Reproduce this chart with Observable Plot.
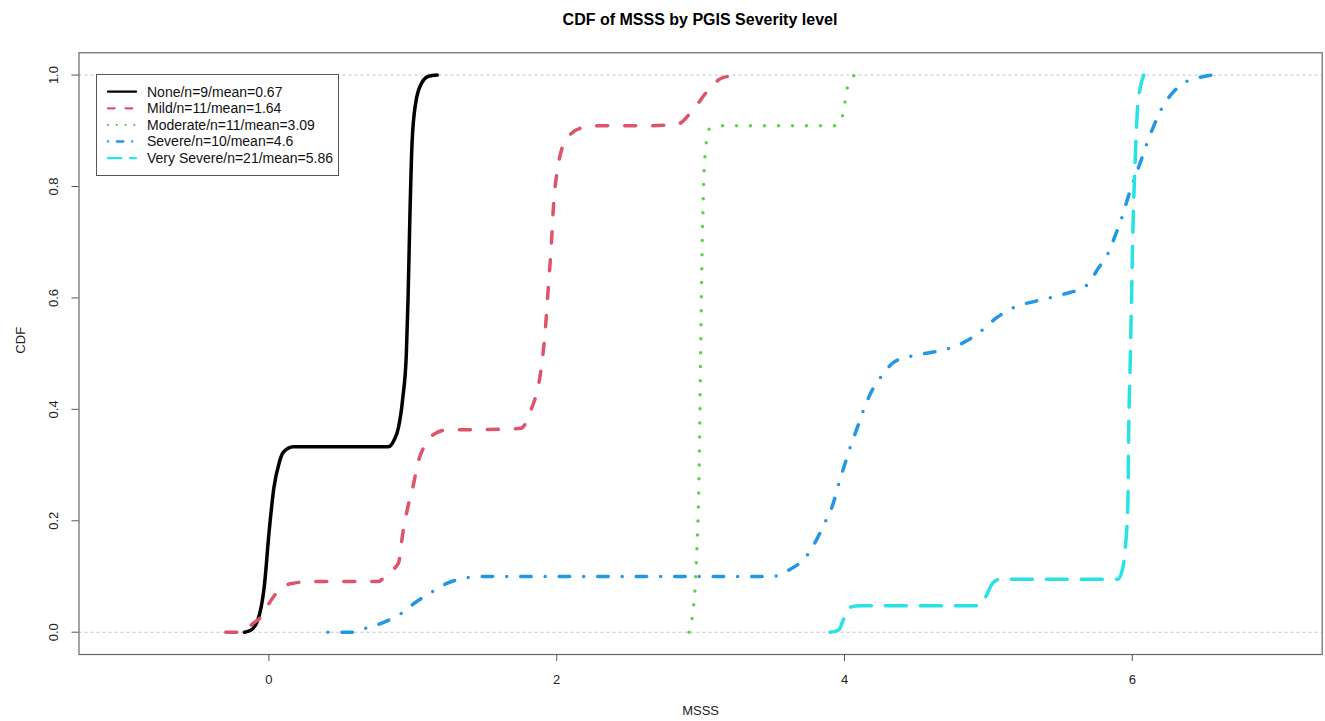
<!DOCTYPE html>
<html>
<head>
<meta charset="utf-8">
<script src="https://cdn.jsdelivr.net/npm/d3@7"></script>
<script src="https://cdn.jsdelivr.net/npm/@observablehq/plot@0.6"></script>
<style>
  html, body { margin: 0; padding: 0; background: #fff; overflow: hidden; }
  #wrap { position: relative; width: 1325px; height: 721px; overflow: hidden; font-family: "Liberation Sans", Arial, sans-serif; }
  #title { height: 36px; box-sizing: border-box; padding-left: 78px; padding-right: 3px; text-align: center;
           font-weight: bold; font-size: 16px; line-height: 39px; color: #000; }
  #chart { height: 685px; }
  #chart svg { display: block; max-width: none !important; }
  #legend { position: absolute; left: 96px; top: 74px; width: 243px; height: 102px; box-sizing: border-box;
            border: 1px solid #555; background: #fff; }
  #legend svg { display: block; }
</style>
</head>
<body>
<div id="wrap">
  <div id="title">CDF of MSSS by PGIS Severity level</div>
  <div id="chart"></div>
  <div id="legend"></div>
</div>
<script>
// ---- data ----
const seriesNames = [
  "None/n=9/mean=0.67",
  "Mild/n=11/mean=1.64",
  "Moderate/n=11/mean=3.09",
  "Severe/n=10/mean=4.6",
  "Very Severe/n=21/mean=5.86"
];
const seriesColors = ["#000000", "#DF536B", "#61D04F", "#2297E6", "#28E2E5"];

const noneX = [-0.17, -0.13, -0.08, -0.03, 0, 0.035, 0.07, 0.1, 0.17, 0.5, 0.83, 0.87, 0.9, 0.93, 0.955, 0.967, 0.98, 0.995, 1.02, 1.06, 1.11, 1.17];
const noneY = [0, 0.003, 0.02, 0.088, 0.177, 0.26, 0.303, 0.323, 0.333, 0.333, 0.333, 0.345, 0.367, 0.42, 0.5, 0.6, 0.75, 0.88, 0.95, 0.985, 0.998, 1];

const mildX = [-0.3, -0.19, -0.11, -0.056, 0.014, 0.083, 0.17, 0.3, 0.76, 0.82, 0.9, 0.93, 0.965, 1.0, 1.04, 1.09, 1.15, 1.24, 1.5, 1.75, 1.82, 1.89, 1.92, 1.94, 1.96, 1.98, 2.01, 2.06, 2.17, 2.3, 2.6, 2.84, 2.95, 3.07, 3.15, 3.28];
const mildY = [0, 0, 0.016, 0.027, 0.057, 0.079, 0.088, 0.0909, 0.0909, 0.105, 0.124, 0.177, 0.224, 0.26, 0.308, 0.338, 0.356, 0.363, 0.3636, 0.366, 0.398, 0.47, 0.54, 0.613, 0.685, 0.774, 0.837, 0.882, 0.905, 0.909, 0.909, 0.912, 0.939, 0.978, 0.995, 1];

const moderateX = [2.92, 2.94, 2.97, 2.99, 3.0, 3.01, 3.03, 3.06, 3.16, 3.5, 3.94, 3.99, 4.02, 4.07];
const moderateY = [0, 0.023, 0.124, 0.296, 0.495, 0.68, 0.853, 0.903, 0.909, 0.909, 0.909, 0.93, 0.978, 1];

const severeX = [0.41, 0.59, 0.67, 0.78, 0.92, 1.01, 1.13, 1.24, 1.38, 1.47, 2.5, 3.5, 3.61, 3.74, 3.81, 3.87, 3.92, 3.96, 4.01, 4.04, 4.09, 4.13, 4.18, 4.25, 4.34, 4.47, 4.6, 4.72, 4.85, 4.96, 5.06, 5.17, 5.34, 5.5, 5.69, 5.76, 5.83, 5.88, 5.93, 5.97, 6.01, 6.06, 6.1, 6.15, 6.2, 6.28, 6.38, 6.49, 6.55];
const severeY = [0, 0, 0.007, 0.016, 0.034, 0.052, 0.072, 0.088, 0.098, 0.1, 0.1, 0.1, 0.111, 0.138, 0.168, 0.2, 0.23, 0.266, 0.308, 0.332, 0.368, 0.397, 0.428, 0.457, 0.484, 0.496, 0.502, 0.509, 0.523, 0.543, 0.565, 0.582, 0.595, 0.605, 0.624, 0.652, 0.679, 0.711, 0.746, 0.78, 0.811, 0.846, 0.876, 0.909, 0.938, 0.968, 0.989, 0.997, 1];

const verySevereX = [3.9, 3.96, 3.99, 4.04, 4.11, 4.5, 4.93, 4.98, 5.03, 5.08, 5.5, 5.9, 5.93, 5.95, 5.97, 5.975, 5.985, 5.995, 6.005, 6.02, 6.035, 6.055, 6.08];
const verySevereY = [0, 0.004, 0.021, 0.045, 0.0476, 0.0476, 0.0476, 0.063, 0.088, 0.0952, 0.0952, 0.0952, 0.111, 0.147, 0.237, 0.357, 0.475, 0.6, 0.726, 0.846, 0.935, 0.977, 1];

const xTicks = [0, 2, 4, 6];
const yTicks = [0, 0.2, 0.4, 0.6, 0.8, 1.0];
const refLines = [0, 1];
const xLabel = "MSSS";
const yLabel = "CDF";

// ---- styles (R line types lty 1..5) ----
const plotDash = [null, "11,17", "0,14", "0,14,10.5,14", "21,14"];
const legendDash = [null, "6.6,11", "0,8.8", "0,8.8,6.6,8.8", "13.2,8.8"];

const allX = [noneX, mildX, moderateX, severeX, verySevereX];
const allY = [noneY, mildY, moderateY, severeY, verySevereY];

const lineMarks = allX.map((xs, i) => {
  const rows = xs.map((x, j) => ({x, y: allY[i][j], series: seriesNames[i]}));
  return Plot.line(rows, {
    x: "x", y: "y",
    stroke: seriesColors[i],
    strokeWidth: 3.5,
    strokeDasharray: plotDash[i] || undefined,
    strokeLinecap: "round",
    strokeLinejoin: "round",
    curve: "monotone-x"
  });
});

const fmtY = d3.format(".1f");
const fmtX = d3.format("d");

const chart = Plot.plot({
  width: 1325,
  height: 685,
  marginLeft: 78.5,
  marginRight: 3.3,
  marginTop: 16.3,
  marginBottom: 67,
  style: {fontFamily: "'Liberation Sans', Arial, sans-serif", fontSize: "13px", color: "#000", background: "#fff"},
  x: {domain: [-1.32, 7.32]},
  y: {domain: [-0.04, 1.04]},
  marks: [
    Plot.ruleY(refLines, {stroke: "#c4c4c4", strokeWidth: 1, strokeDasharray: "3,3"}),
    ...lineMarks,
    Plot.frame({stroke: "#666", strokeWidth: 1.2}),
    Plot.axisX(xTicks, {tickSize: 7, tickPadding: 13, tickFormat: fmtX, label: null, stroke: "#555", fill: "#222", fontSize: 13}),
    Plot.axisY(yTicks, {tickSize: 7, tickFormat: () => "", label: null, stroke: "#555"}),
    Plot.text(yTicks, {y: d => d, text: d => fmtY(d), frameAnchor: "left", dx: -25, rotate: -90, textAnchor: "middle", fill: "#222", fontSize: 13}),
    Plot.text([xLabel], {frameAnchor: "bottom", dy: 60, fill: "#222", fontSize: 13}),
    Plot.text([yLabel], {frameAnchor: "left", dx: -58, rotate: -90, fill: "#222", fontSize: 13})
  ]
});
document.getElementById("chart").appendChild(chart);

// ---- legend (HTML overlay) ----
const lg = d3.select("#legend").append("svg").attr("width", 241).attr("height", 100);
seriesNames.forEach((name, i) => {
  const cy = 16.7 + 16.6 * i;
  lg.append("line").attr("x1", 11).attr("x2", 39).attr("y1", cy).attr("y2", cy)
    .attr("stroke", seriesColors[i]).attr("stroke-width", 2.3)
    .attr("stroke-linecap", "round")
    .attr("stroke-dasharray", legendDash[i]);
  lg.append("text").attr("x", 50).attr("y", cy).attr("dy", "0.35em")
    .attr("font-family", "'Liberation Sans', Arial, sans-serif").attr("font-size", 14)
    .attr("fill", "#111").text(name);
});
</script>
</body>
</html>
